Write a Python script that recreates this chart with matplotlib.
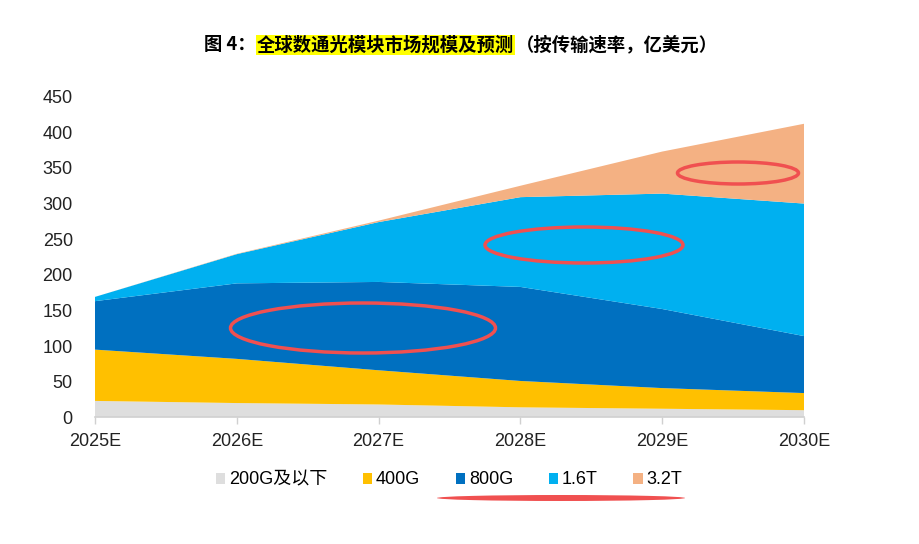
import matplotlib
matplotlib.use("Agg")
import matplotlib.pyplot as plt
from matplotlib.patches import Patch, Ellipse
import numpy as np

plt.rcParams['font.family'] = ['Liberation Sans', 'Noto Sans CJK SC', 'DejaVu Sans']

years = ['2025E', '2026E', '2027E', '2028E', '2029E', '2030E']
series_names = ['200G及以下', '400G', '800G', '1.6T', '3.2T']
g200 = [23, 20, 18, 14, 12, 10]
g400 = [72, 62, 48, 37, 29, 24]
g800 = [68, 106, 124, 132, 111, 80]
t16 = [6, 41, 84, 126, 162, 186]
t32 = [0, 0.5, 2, 16, 59, 112]
colors = ['#DEDEDE', '#FFC000', '#0070C0', '#00B0F0', '#F4B183']

title_pre = '图 4：'
title_mid = '全球数通光模块市场规模及预测'
title_post = '（按传输速率，亿美元）'

W, H = 919, 544
fig = plt.figure(figsize=(W / 100, H / 100), dpi=100)
ax = fig.add_axes([95 / W, 1 - 417.3 / H, 709 / W, 320.6 / H])

x = np.arange(len(years))
ax.stackplot(x, g200, g400, g800, t16, t32, colors=colors, linewidth=0)

ax.set_xlim(0, len(years) - 1)
ax.set_ylim(0, 450)
ax.set_yticks(range(0, 451, 50))
ax.set_xticks(x)
ax.set_xticklabels(years)
for s in ['top', 'right', 'left']:
    ax.spines[s].set_visible(False)
ax.spines['bottom'].set_color('#D0D0D0')
ax.spines['bottom'].set_linewidth(1.2)
ax.tick_params(axis='y', length=0, pad=16, labelsize=13, labelcolor='#222222')
ax.tick_params(axis='x', length=5, color='#D0D0D0', width=1, pad=6,
               labelsize=13, labelcolor='#222222')

# legend
handles = [Patch(facecolor=c, edgecolor='none') for c in colors]
fig.legend(handles, series_names, loc='center', bbox_to_anchor=(449 / W, 1 - 480 / H),
           ncol=5, frameon=False, handlelength=0.55, handleheight=0.55,
           handletextpad=0.2, columnspacing=1.95,
           prop={'family': ['Liberation Sans', 'Noto Sans CJK SC'], 'size': 13})

# title with highlighted middle part
fig.canvas.draw()
r = fig.canvas.get_renderer()
tfont = dict(family=['Noto Sans CJK SC', 'DejaVu Sans'], weight='bold', size=13.2, va='center')
ty = 1 - 45 / H
t1 = fig.text(0, ty, title_pre, **tfont)
t2 = fig.text(0, ty, title_mid, bbox=dict(facecolor='#FFFF00', edgecolor='none', pad=0.5), **tfont)
t3 = fig.text(0, ty, title_post, **tfont)
w1 = t1.get_window_extent(r).width
w2 = t2.get_window_extent(r).width
w3 = t3.get_window_extent(r).width
x0 = 460 - (w1 + w2 + w3) / 2
t1.set_x(x0 / W)
t2.set_x((x0 + w1 + 1) / W)
t3.set_x((x0 + w1 + w2 + 3) / W)

# red hand-drawn marks
red = '#F05050'
for cx, cy, ew, eh in [(363, 328, 265, 50), (584, 245, 198, 36), (738, 173, 121, 22)]:
    fig.add_artist(Ellipse((cx / W, 1 - cy / H), ew / W, eh / H, transform=fig.transFigure,
                           fill=False, edgecolor=red, linewidth=2.5))
fig.add_artist(Ellipse((561 / W, 1 - 498 / H), 248 / W, 6 / H, transform=fig.transFigure,
                       facecolor=red, edgecolor='none'))

fig.savefig('out.png', dpi=100)
